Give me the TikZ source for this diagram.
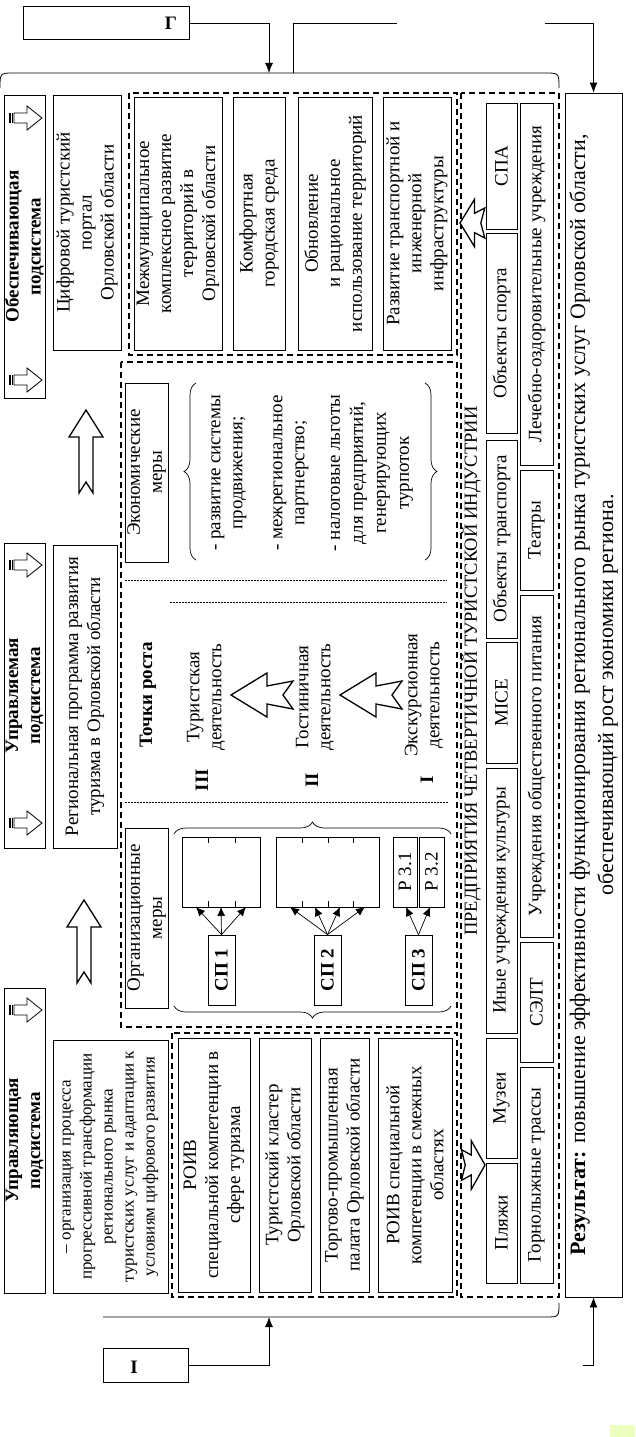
\documentclass[tikz,border=0pt]{standalone}
\usepackage{fontspec}
\setmainfont{Liberation Serif}
\usetikzlibrary{arrows.meta,decorations.pathreplacing}
\newcommand\bx[7][]{\node[box,#1,minimum width={(#6-#4)*1pt},minimum height={(#5-#3)*1pt}] (#2) at ({(#3+#5)/2},{(#4+#6)/2}) {#7};}
\begin{document}
\begin{tikzpicture}[x=1pt,y=-1pt,
  box/.style={draw,line width=0.8pt,rotate=90,inner sep=1pt,align=center,font=\fontsize{19}{22}\selectfont},
  hdr/.style={font=\fontsize{19}{22}\selectfont\bfseries},
  small/.style={font=\fontsize{17}{21}\selectfont},
  res/.style={font=\fontsize{22}{28}\selectfont},
  lbl/.style={rotate=90,inner sep=0pt,align=center,font=\fontsize{19}{22}\selectfont},
  bld/.style={font=\fontsize{19}{22}\selectfont\bfseries},
  dbox/.style={line width=1.5pt,dash pattern=on 6pt off 4pt},
  dots/.style={line width=0.6pt,dash pattern=on 2pt off 1pt},
  con/.style={line width=0.8pt},
  arr/.style={con,-{Latex[length=10pt,width=8pt]}},
  sarr/.style={line width=0.7pt,-{Latex[length=9pt,width=8pt]}},
  brc/.style={decorate,decoration={brace,amplitude=12pt},line width=0.7pt},
  rar/.pic={\draw[line width=0.8pt,fill=white] (6,-5)--(19,-5)--(19,-12)--(34,0)--(19,12)--(19,5)--(6,5)--cycle;
    \draw[line width=2pt] (1.5,-5)--(1.5,5); \draw[line width=1pt] (4.5,-5)--(4.5,5);},
  uar/.pic={\draw[line width=1.3pt,fill=white] (0,0)--(17,27)--(7,27)--(7,83)--(0,72)--(-7,83)--(-7,27)--(-17,27)--cycle;},
  jag/.pic={\draw[line width=1.3pt,fill=white,line join=miter] (0,0)--(36,-22)--(36,-9)--(62,-14)--(52,0)--(62,14)--(36,9)--(36,22)--cycle;}
]
\fill[white] (0,0) rectangle (635,1437);
\useasboundingbox (0,0) rectangle (635,1437);
\fill[green!30!yellow!25] (610,1425) rectangle (635,1437);

% column A: subsystem headers
\bx[hdr]{a1}{4}{95}{45}{398}{Обеспечивающая\\подсистема}
\bx[hdr]{a2}{4}{543}{45}{848}{Управляемая\\подсистема}
\bx[hdr]{a3}{4}{988}{45}{1293}{Управляющая\\подсистема}
\pic at (8,118) {rar};
\pic at (8,380) {rar};
\pic at (8,565) {rar};
\pic at (8,823) {rar};
\pic at (8,1010) {rar};

% column B
\bx{b1}{53}{95}{121}{350}{Цифровой туристский\\портал\\Орловской области}
\bx{b2}{53}{545}{117}{848}{Региональная программа развития\\туризма в Орловской области}
\bx[small]{b3}{53}{1040}{168}{1293}{– организация процесса\\прогрессивной трансформации\\регионального рынка\\туристских услуг и адаптации к\\условиям цифрового развития}
\pic at (86,410) {uar};
\pic at (84,900) {uar};

% dashed regions
\draw[dbox] (129,93) rectangle (457,355);
\draw[dbox] (121,362) rectangle (457,1027);
\draw[dbox] (172,1033) rectangle (457,1297);
\draw[dbox] (461,93) rectangle (559,1297);

% supporting items
\bx{c1}{134}{97}{222}{350}{Межмуниципальное\\комплексное развитие\\территорий в\\Орловской области}
\bx{c2}{233}{97}{285}{350}{Комфортная\\городская среда}
\bx{c3}{298}{97}{372}{350}{Обновление\\и рациональное\\использование территорий}
\bx{c4}{383}{97}{451}{350}{Развитие транспортной и\\инженерной\\инфраструктуры}

% economic measures
\bx{em}{125}{383}{168}{562}{Экономические\\меры}
\draw[brc] (196,560) -- (196,383);
\draw[brc] (425,383) -- (425,560);
\node[lbl] (e1) at (229,473) {- развитие системы\\продвижения;};
\node[lbl] (e2) at (291,473) {- межрегиональное\\партнерство;};
\node[lbl,font=\fontsize{19}{23}\selectfont] (e3) at (372,473) {- налоговые льготы\\для предприятий,\\генерирующих\\турпоток};

% growth points
\draw[dots] (125,580) -- (447,580);
\draw[dots] (170,602) -- (447,602);
\draw[dots] (125,802) -- (449,802);
\node[lbl,bld] (tr) at (148,695) {Точки роста};
\node[lbl] (g3) at (206,697) {Туристская\\деятельность};
\node[lbl] (g2) at (315,697) {Гостиничная\\деятельность};
\node[lbl] (g1) at (424,695) {Экскурсионная\\деятельность};
\node[lbl,bld] (n3) at (202,780) {III};
\node[lbl,bld] (n2) at (312,780) {II};
\node[lbl,bld] (n1) at (427,780) {I};
\pic at (231,695) {jag};
\pic at (340,695) {jag};

% organisational measures
\bx{om}{125}{828}{168}{1008}{Организационные\\меры}
\draw[brc] (174,834) -- (451,834);
\draw[brc] (451,1006) -- (174,1006);
\bx{gr1}{182}{837}{260}{907}{}
\bx{gr2}{276}{837}{379}{907}{}
\foreach \t in {208,235,302,328,353}{\draw[line width=0.8pt] (\t,837)--(\t,843) (\t,901)--(\t,907);}
\bx{p31}{393}{837}{417}{907}{Р 3.1}
\bx{p32}{419}{837}{444}{907}{Р 3.2}
\bx[bld]{sp1}{208}{935}{235}{1005}{СП 1}
\bx[bld]{sp2}{314}{935}{341}{1005}{СП 2}
\bx[bld]{sp3}{405}{935}{432}{1005}{СП 3}
\coordinate (t11) at (196,907); \coordinate (t12) at (221,907); \coordinate (t13) at (246,907);
\coordinate (t21) at (290,907); \coordinate (t22) at (315,907); \coordinate (t23) at (340,907); \coordinate (t24) at (365,907);
\coordinate (t31) at (406,907); \coordinate (t32) at (430,907);
\foreach \t in {t11,t12,t13}{\draw[sarr] (sp1.east) -- (\t);}
\foreach \t in {t21,t22,t23,t24}{\draw[sarr] (sp2.east) -- (\t);}
\foreach \t in {t31,t32}{\draw[sarr] (sp3.east) -- (\t);}

% managing items
\bx{d1}{178}{1038}{250}{1292}{РОИВ\\специальной компетенции в\\сфере туризма}
\bx{d2}{259}{1038}{311}{1292}{Туристский кластер\\Орловской области}
\bx{d3}{320}{1038}{369}{1292}{Торгово-промышленная\\палата Орловской области}
\bx{d4}{378}{1038}{452}{1292}{РОИВ специальной\\компетенции в смежных\\областях}

% industry
\node[lbl,font=\fontsize{18.5}{22}\selectfont] (title) at (471,671) {ПРЕДПРИЯТИЯ ЧЕТВЕРТИЧНОЙ ТУРИСТСКОЙ ИНДУСТРИИ};
\pic[xscale=0.4,yscale=1.07] at (460,223) {jag};
\pic[xscale=-0.38,yscale=1.1] at (485,1165) {jag};
\bx{i1}{486}{103}{517}{229}{СПА}
\bx{i2}{486}{233}{517}{433}{Объекты спорта}
\bx{i3}{486}{440}{517}{638}{Объекты транспорта}
\bx{i4}{486}{642}{517}{763}{MICE}
\bx{i5}{486}{768}{517}{1033}{Иные учреждения культуры}
\bx{i6}{486}{1038}{517}{1158}{Музеи}
\bx{i7}{486}{1163}{517}{1283}{Пляжи}
\bx{j1}{520}{103}{553}{465}{Лечебно-оздоровительные учреждения}
\bx{j2}{520}{470}{553}{590}{Театры}
\bx{j3}{520}{595}{553}{937}{Учреждения общественного питания}
\bx{j4}{520}{942}{553}{1062}{СЭЛТ}
\bx{j5}{520}{1067}{553}{1283}{Горнолыжные трассы}

% result
\bx[res]{res}{565}{93}{622}{1297}{\textbf{Результат:} повышение эффективности функционирования регионального рынка туристских услуг Орловской области,\\обеспечивающий рост экономики региона.}

% outer brackets and connectors
\draw[con] (0,88) .. controls (0,73) .. (14,73) -- (545,73) .. controls (559,73) .. (559,88);
\draw[con] (103,1317) -- (545,1317) .. controls (559,1317) .. (559,1303);
\node[draw,line width=0.8pt,minimum width=166pt,minimum height=33pt,inner sep=0pt] (gbox) at (106,23) {};
\node[bld] (gt) at (171,23) {Г};
\node[draw,line width=0.8pt,minimum width=85pt,minimum height=34pt,inner sep=0pt] (ibox) at (145.5,1365) {};
\node[bld] (it) at (134,1367) {I};
\coordinate (bt) at (269,73);
\coordinate (bb) at (269,1317);
\coordinate (tk) at (293,73);
\coordinate (tke) at (397,23);
\coordinate (rs) at (545,23);
\coordinate (rb) at (583,1365);
\draw[arr] (gbox.east) -| (bt);
\draw[arr] (ibox.east) -| (bb);
\draw[con] (tk) |- (tke);
\draw[arr] (rs) -| (res.east);
\draw[arr] (rb) -| (res.west);
\end{tikzpicture}
\end{document}
